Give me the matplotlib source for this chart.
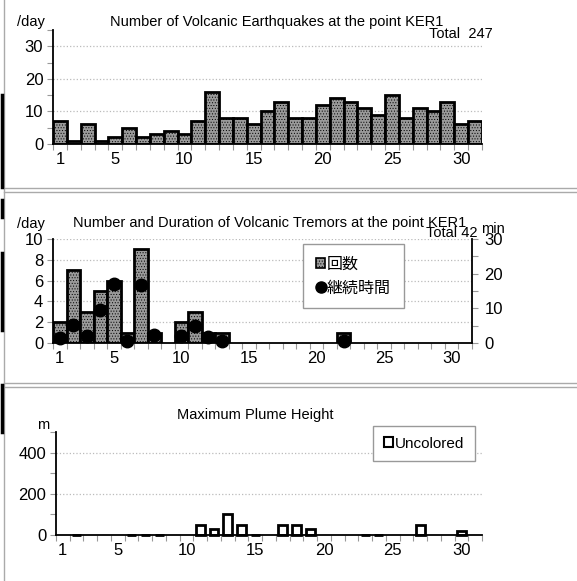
import matplotlib
matplotlib.use('Agg')
import numpy as np
import matplotlib.pyplot as plt
from matplotlib.lines import Line2D
from matplotlib.patches import Patch
from matplotlib.ticker import MultipleLocator, FixedLocator

plt.rcParams['font.family'] = ['Liberation Sans', 'Noto Sans CJK JP', 'DejaVu Sans']
plt.rcParams['hatch.linewidth'] = 0.4

nan = np.nan
days = np.arange(1, 32)
day_labels = [1, 5, 10, 15, 20, 25, 30]

# volcanic earthquakes per day (total 247)
quake_counts = [7, 1, 6, 1, 2, 5, 2, 3, 4, 3, 7, 16, 8, 8, 6, 10,
                13, 8, 8, 12, 14, 13, 11, 9, 15, 8, 11, 10, 13, 6, 7]

# volcanic tremors: count per day (total 42) and duration in minutes
tremor_counts = [2, 7, 3, 5, 6, 1, 9, 1, 0, 2, 3, 1, 1, 0, 0, 0,
                 0, 0, 0, 0, 0, 1, 0, 0, 0, 0, 0, 0, 0, 0, 0]
tremor_minutes = [1.4, 5.1, 1.9, 9.4, 17.0, 0.5, 16.8, 2.3, nan, 2.1, 5.0, 1.7, 0.5, nan, nan, nan,
                  nan, nan, nan, nan, nan, 0.5, nan, nan, nan, nan, nan, nan, nan, nan, nan]

# maximum plume height (m), nan = not observed
plume_height = [nan, 0, nan, nan, nan, 0, 0, 0, nan, nan, 50, 30, 100, 50, 0, nan,
                50, 50, 30, nan, nan, nan, 0, 0, nan, nan, 50, nan, nan, 20, nan]

W, H = 577, 581
fig = plt.figure(figsize=(W / 100, H / 100), dpi=100)


def px_axes(l, t, r, b):
    return fig.add_axes([l / W, 1 - b / H, (r - l) / W, (b - t) / H])


def px_text(x, y, s, **kw):
    fig.text(x / W, 1 - y / H, s, **kw)


def style_axes(ax, ymax, major, minor):
    ax.set_xlim(0.5, 31.5)
    ax.set_ylim(0, ymax)
    ax.set_xticks(day_labels)
    ax.xaxis.set_minor_locator(FixedLocator(np.arange(0.5, 32, 1)))
    ax.tick_params(axis='x', which='major', length=0, pad=6, labelsize=12)
    ax.tick_params(axis='x', which='minor', length=4, color='#999999', width=0.8)
    ax.yaxis.set_major_locator(MultipleLocator(major))
    ax.yaxis.set_minor_locator(MultipleLocator(minor))
    ax.tick_params(axis='y', which='both', length=4, color='#999999', width=0.8, labelsize=12, pad=3)
    ax.yaxis.grid(True, which='major', color='#bbbbbb', linestyle=':', linewidth=0.9)
    ax.set_axisbelow(True)
    for s in ['top', 'right']:
        ax.spines[s].set_visible(False)
    for s in ['left', 'bottom']:
        ax.spines[s].set_linewidth(1.3)


bar_style = dict(width=1.0, facecolor='#9a9a9a', edgecolor='black', linewidth=2, hatch='......')

# ---- panel 1: earthquakes
ax1 = px_axes(53, 30, 482, 144)
ax1.bar(days, quake_counts, **bar_style)
style_axes(ax1, 35, 10, 5)
ax1.set_yticks([0, 10, 20, 30])
px_text(277, 22, 'Number of Volcanic Earthquakes at the point KER1', ha='center', va='center', fontsize=10.5)
px_text(17, 22, '/day', ha='left', va='center', fontsize=10.5)
px_text(493, 34, 'Total  247', ha='right', va='center', fontsize=10.5)

# ---- panel 2: tremors
ax2 = px_axes(53, 239, 472, 343)
tc = np.array(tremor_counts)
ax2.bar(days[tc > 0], tc[tc > 0], **bar_style)
style_axes(ax2, 10, 2, 1)
ax2.tick_params(axis='y', which='minor', length=0)
ax2r = ax2.twinx()
ax2r.set_ylim(0, 30)
ax2r.yaxis.set_major_locator(MultipleLocator(10))
ax2r.yaxis.set_minor_locator(MultipleLocator(5))
ax2r.tick_params(axis='y', which='both', length=4, color='#999999', width=0.8, labelsize=12, pad=5)
for s in ['top', 'left', 'bottom']:
    ax2r.spines[s].set_visible(False)
ax2r.spines['right'].set_linewidth(1.3)
ax2r.plot(days, tremor_minutes, linestyle='none', marker='o', markersize=9, color='black', clip_on=False)
px_text(270, 223, 'Number and Duration of Volcanic Tremors at the point KER1', ha='center', va='center', fontsize=10.5)
px_text(17, 224, '/day', ha='left', va='center', fontsize=10.5)
px_text(477, 233, 'Total 42', ha='right', va='center', fontsize=10.5)
px_text(493, 229, 'min', ha='center', va='center', fontsize=10.5)
handles = [Patch(facecolor='#9a9a9a', edgecolor='black', hatch='......', linewidth=1.2),
           Line2D([], [], linestyle='none', marker='o', markersize=8, color='black')]
ax2.legend(handles, ['回数', '継続時間'], loc='upper left', bbox_to_anchor=(303 / W, 1 - 244 / H),
           bbox_transform=fig.transFigure, fancybox=False, edgecolor='#999999', framealpha=1,
           fontsize=11.5, handlelength=0.6, handleheight=0.6, handletextpad=0.1,
           borderpad=0.8, labelspacing=0.55, borderaxespad=0)

# ---- panel 3: plume height
ax3 = px_axes(56, 432, 482, 535)
ph = np.array(plume_height)
seen = ~np.isnan(ph)
ax3.bar(days[seen], ph[seen], width=0.65, facecolor='white', edgecolor='black', linewidth=2, clip_on=False)
style_axes(ax3, 500, 200, 100)
ax3.set_yticks([0, 200, 400])
px_text(255, 415, 'Maximum Plume Height', ha='center', va='center', fontsize=10.5)
px_text(43, 425, 'm', ha='center', va='center', fontsize=10.5)
ax3.legend([Patch(facecolor='white', edgecolor='black', linewidth=1.5)], ['Uncolored'],
           loc='upper left', bbox_to_anchor=(373 / W, 1 - 426 / H), bbox_transform=fig.transFigure,
           fancybox=False, edgecolor='#999999', framealpha=1, fontsize=11,
           handlelength=0.6, handleheight=0.6, handletextpad=0.15, borderpad=0.7, borderaxespad=0)

# ---- frame borders between the chart blocks
gray = '#aaaaaa'
for y in [188, 192, 383, 387]:
    fig.add_artist(Line2D([3.5 / W, 1], [1 - y / H] * 2, color=gray, linewidth=1))
fig.add_artist(Line2D([3.5 / W] * 2, [0, 1], color=gray, linewidth=1))

# black marks at the left edge
for y0, y1 in [(95, 187), (200, 217), (253, 330), (385, 432)]:
    fig.add_artist(Line2D([1.5 / W] * 2, [1 - y0 / H, 1 - y1 / H], color='black', linewidth=2.5))

fig.savefig('out.png', dpi=100)
